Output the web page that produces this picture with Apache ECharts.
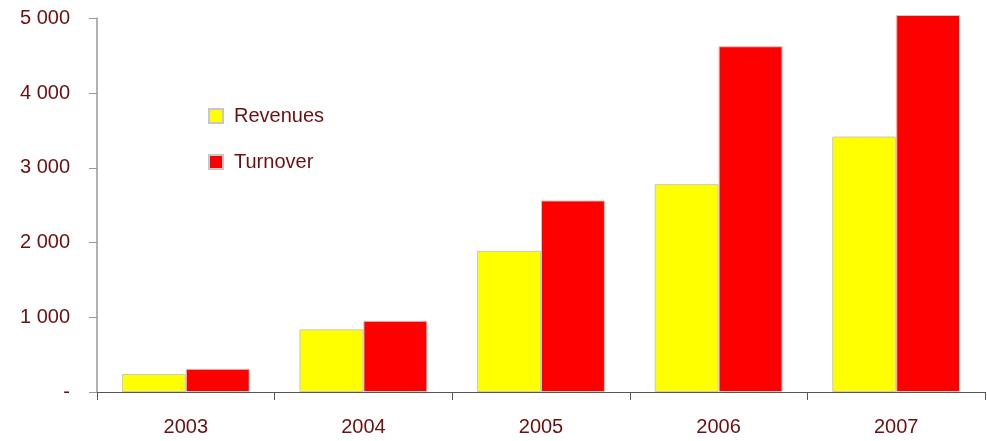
<!DOCTYPE html>
<html>
<head>
<meta charset="utf-8">
<script src="https://cdn.jsdelivr.net/npm/echarts@6/dist/echarts.min.js"></script>
<style>html,body{margin:0;padding:0;background:#fff}#c{width:987px;height:441px}</style>
</head>
<body>
<div id="c"></div>
<script>
const categories = ['2003', '2004', '2005', '2006', '2007'];
const revenues = [241, 838, 1889, 2781, 3418];
const turnover = [311, 953, 2563, 4626, 5044];
const yTicks = [0, 1000, 2000, 3000, 4000, 5000];

const labelColor = '#6b1010';
const font = "'Liberation Sans', Arial, sans-serif";

const chart = echarts.init(document.getElementById('c'));
chart.setOption({
  animation: false,
  backgroundColor: '#fff',
  grid: { left: 97, right: 2, top: 18.3, bottom: 49, containLabel: false },
  legend: {
    orient: 'vertical', left: 208, top: 106, padding: 0,
    itemWidth: 14, itemHeight: 14, itemGap: 26,
    icon: 'rect',
    textStyle: { color: labelColor, fontSize: 20, fontFamily: font, padding: [0, 0, 0, 6] },
    data: ['Revenues', 'Turnover']
  },
  xAxis: {
    type: 'category', data: categories,
    axisLine: { lineStyle: { color: '#555', width: 1 } },
    axisTick: { show: true, length: 8, lineStyle: { color: '#555' } },
    axisLabel: { color: labelColor, fontSize: 20, fontFamily: font, margin: 25 }
  },
  yAxis: {
    type: 'value', min: yTicks[0], max: yTicks[yTicks.length - 1], interval: 1000,
    splitLine: { show: false },
    axisLine: { show: true, lineStyle: { color: '#999', width: 1.5 } },
    axisTick: { show: true, length: 8, lineStyle: { color: '#999' } },
    axisLabel: {
      color: labelColor, fontSize: 20, fontFamily: font, margin: 27,
      formatter: v => v === 0 ? '-' : String(v).replace(/\B(?=(\d{3})+(?!\d))/g, ' ')
    }
  },
  series: [
    {
      name: 'Revenues', type: 'bar', data: revenues, clip: false,
      barGap: '0%', barCategoryGap: '28%',
      itemStyle: { color: '#ffff00', borderColor: '#c8c8c8', borderWidth: 1 }
    },
    {
      name: 'Turnover', type: 'bar', data: turnover, clip: false,
      itemStyle: { color: '#ff0000', borderColor: '#c8c8c8', borderWidth: 1 }
    }
  ]
});
</script>
</body>
</html>
